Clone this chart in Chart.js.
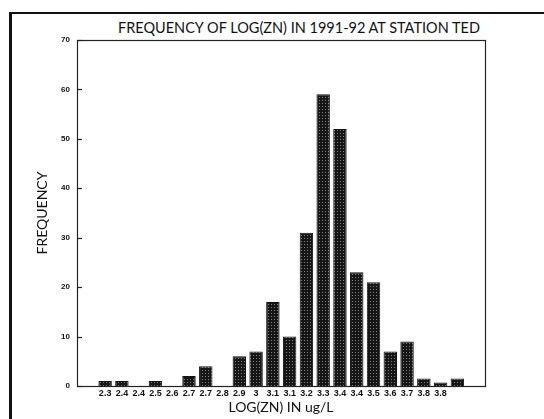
<!DOCTYPE html>
<html>
<head>
<meta charset="utf-8">
<script src="https://cdn.jsdelivr.net/npm/chart.js@4.4.0/dist/chart.umd.min.js"></script>
<style>
  body { margin: 0; background: #fff; }
  #wrap { position: relative; width: 544px; height: 419px; overflow: hidden; }
  #frame { position: absolute; left: 9px; top: 12px; right: -10px; bottom: -10px;
           border-left: 3px solid #111; border-top: 2px solid #111; }
  #title { position: absolute; left: 0; top: 19px; width: 598px; text-align: center;
           font: 14.5px Lato, sans-serif; color: #111; }
  canvas { position: absolute; left: 0; top: 0; }
</style>
</head>
<body>
<div id="wrap">
  <div id="frame"></div>
  <div id="title">FREQUENCY OF LOG(ZN) IN 1991-92 AT STATION TED</div>
  <canvas id="myChart" width="544" height="419"></canvas>
</div>
<script>
// bin labels as printed under the bars (last bar has no label)
const categories = ['2.3', '2.4', '2.4', '2.5', '2.6', '2.7', '2.7', '2.8', '2.9', '3',
    '3.1', '3.1', '3.2', '3.3', '3.4', '3.4', '3.5', '3.6', '3.7', '3.8', '3.8', ''];
const frequency = [1, 1, 0, 1, 0, 2, 4, 0, 6, 7,
    17, 10, 31, 59, 52, 23, 21, 7, 9, 1.5, 0.7, 1.5];
const yTicks = [0, 10, 20, 30, 40, 50, 60, 70];

function makePattern() {
    const c = document.createElement('canvas');
    c.width = 3;
    c.height = 3;
    const g = c.getContext('2d');
    g.fillStyle = '#161616';
    g.fillRect(0, 0, 3, 3);
    g.fillStyle = '#808080';
    g.fillRect(1, 1, 1, 1);
    return g.createPattern(c, 'repeat');
}

// plot box + inward tick marks on the left axis
const boxPlugin = {
    id: 'box',
    afterDraw(chart) {
        const a = chart.chartArea;
        const y = chart.scales.y;
        const ctx = chart.ctx;
        ctx.save();
        ctx.strokeStyle = '#222';
        ctx.lineWidth = 1.2;
        ctx.strokeRect(a.left + 0.5, a.top + 0.5, a.right - a.left, a.bottom - a.top);
        y.ticks.forEach(t => {
            const py = Math.round(y.getPixelForValue(t.value)) + 0.5;
            ctx.beginPath();
            ctx.moveTo(a.left, py);
            ctx.lineTo(a.left + 5, py);
            ctx.stroke();
        });
        ctx.restore();
    }
};

let ctx = document.getElementById('myChart').getContext('2d');
let myChart = new Chart(ctx, {
    type: 'bar',
    data: {
        datasets: [{
            data: frequency.map((v, i) => ({ x: i, y: v })),
            backgroundColor: makePattern(),
            borderColor: '#111',
            borderWidth: 1,
            barPercentage: 0.8,
            categoryPercentage: 1
        }]
    },
    options: {
        responsive: false,
        animation: false,
        layout: { padding: { left: 34, right: 59, top: 40, bottom: 3 } },
        plugins: { legend: { display: false }, tooltip: { enabled: false } },
        scales: {
            x: {
                type: 'linear',
                min: -1.17,
                max: 22.14,
                grid: { display: false, drawTicks: false },
                border: { display: false },
                afterFit: s => { s.height = 30; },
                ticks: {
                    stepSize: 1,
                    maxTicksLimit: 40,
                    includeBounds: false,
                    autoSkip: false,
                    maxRotation: 0,
                    padding: 2,
                    color: '#111',
                    font: { family: "'Liberation Sans', sans-serif", size: 9, weight: 'bold' },
                    callback: v => (Number.isInteger(v) && v >= 0 && v < categories.length) ? categories[v] : ''
                },
                title: {
                    display: true,
                    text: 'LOG(ZN) IN ug/L',
                    color: '#111',
                    padding: 0,
                    font: { family: 'Lato, sans-serif', size: 14 }
                }
            },
            y: {
                min: yTicks[0],
                max: yTicks[yTicks.length - 1],
                grid: { display: false, drawTicks: false },
                border: { display: false },
                afterFit: s => { s.width = 43; },
                ticks: {
                    stepSize: 10,
                    padding: 7,
                    color: '#111',
                    font: { family: "'Liberation Sans', sans-serif", size: 8, weight: 'bold' }
                },
                title: {
                    display: true,
                    text: 'FREQUENCY',
                    color: '#111',
                    padding: 0,
                    font: { family: 'Lato, sans-serif', size: 14 }
                }
            }
        }
    },
    plugins: [boxPlugin]
});
</script>
</body>
</html>
